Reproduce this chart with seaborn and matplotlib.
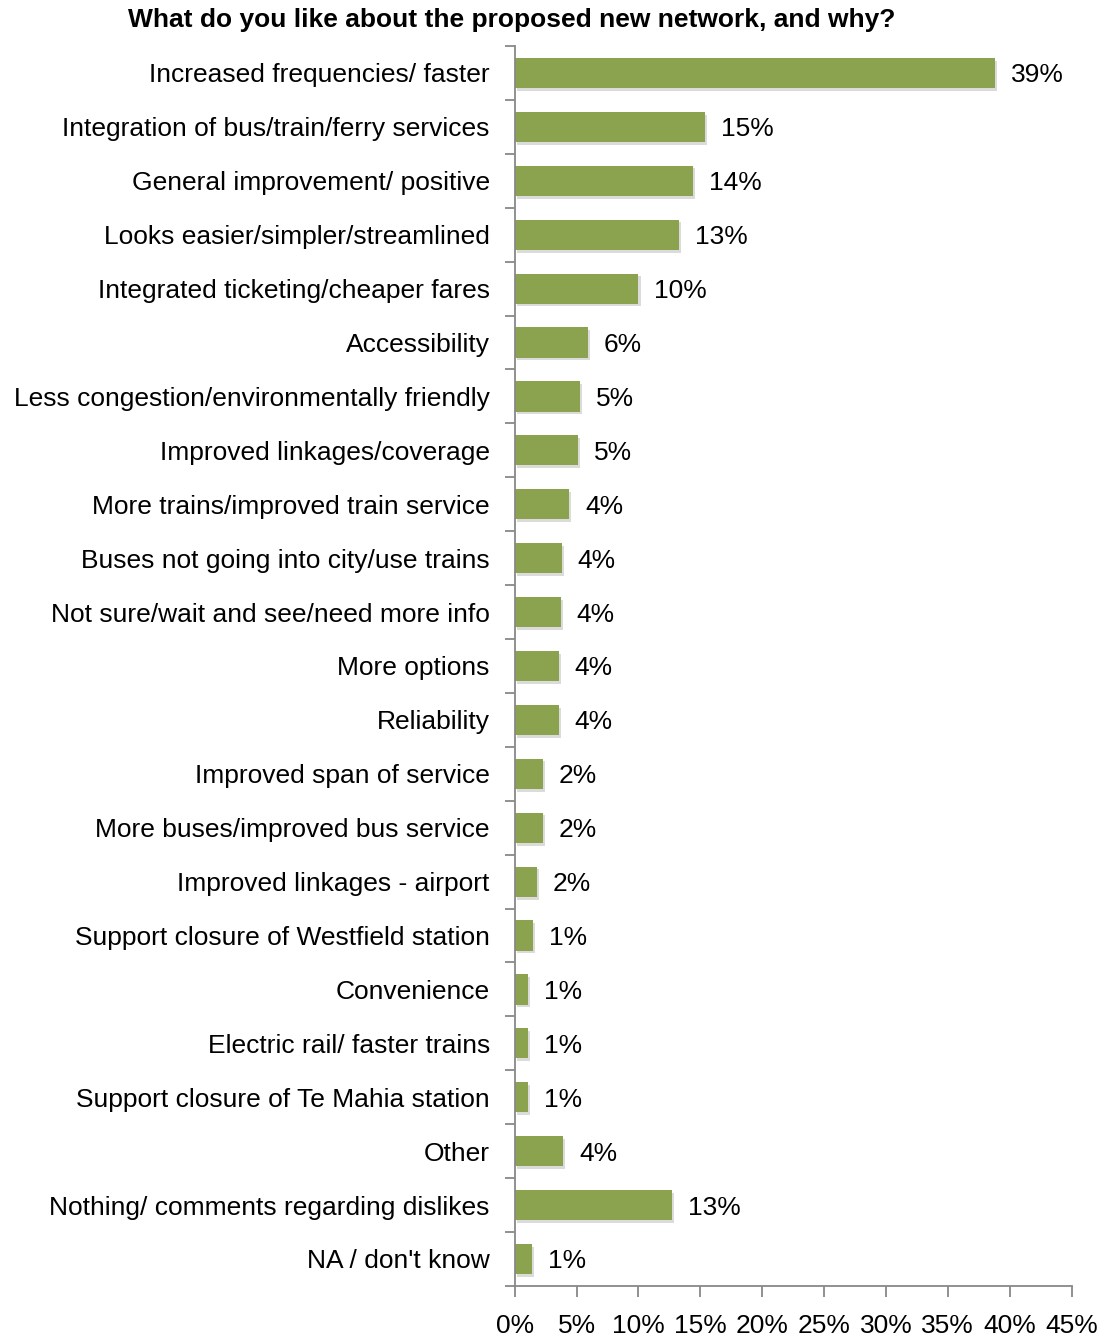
import matplotlib
matplotlib.use("Agg")
import matplotlib.pyplot as plt
import matplotlib.patheffects as pe
from matplotlib.ticker import FixedLocator, PercentFormatter
import numpy as np
import pandas as pd
import seaborn as sns

categories = [
    "Increased frequencies/ faster",
    "Integration of bus/train/ferry services",
    "General improvement/ positive",
    "Looks easier/simpler/streamlined",
    "Integrated ticketing/cheaper fares",
    "Accessibility",
    "Less congestion/environmentally friendly",
    "Improved linkages/coverage",
    "More trains/improved train service",
    "Buses not going into city/use trains",
    "Not sure/wait and see/need more info",
    "More options",
    "Reliability",
    "Improved span of service",
    "More buses/improved bus service",
    "Improved linkages - airport",
    "Support closure of Westfield station",
    "Convenience",
    "Electric rail/ faster trains",
    "Support closure of Te Mahia station",
    "Other",
    "Nothing/ comments regarding dislikes",
    "NA / don't know",
]
shares = [38.8, 15.4, 14.4, 13.3, 10.0, 5.9, 5.25, 5.1, 4.4, 3.8, 3.7, 3.55,
          3.55, 2.26, 2.26, 1.8, 1.45, 1.1, 1.1, 1.1, 3.9, 12.7, 1.4]
x_ticks = [0, 5, 10, 15, 20, 25, 30, 35, 40, 45]

df = pd.DataFrame({"category": categories, "share": shares})

sns.set_theme(style="white")
plt.rcParams["font.family"] = ["Liberation Sans", "DejaVu Sans"]

fig = plt.figure(figsize=(11.07, 13.38), dpi=100)
ax = fig.add_axes([0.465, 0.0389, 0.968 - 0.465, 0.9656 - 0.0389])

bar_color = "#8BA34E"
sns.barplot(data=df, x="share", y="category", order=categories,
            color=bar_color, saturation=1, width=0.56, ax=ax, orient="h")

for patch in ax.patches:
    patch.set_edgecolor("none")
    patch.set_path_effects([
        pe.SimplePatchShadow(offset=(1.5, -2), shadow_rgbFace="#b0b0b0", alpha=0.45),
        pe.Normal(),
    ])

for i, v in enumerate(shares):
    ax.annotate(f"{v:.0f}%", xy=(v, i), xytext=(11.5, 0), textcoords="offset points",
                va="center_baseline", ha="left", fontsize=19, color="black")

ax.set_xlim(0, 45)
ax.set_ylim(len(categories) - 0.5, -0.5)
ax.xaxis.set_major_locator(FixedLocator(x_ticks))
ax.xaxis.set_major_formatter(PercentFormatter(decimals=0))
ax.set_xlabel("")
ax.set_ylabel("")

# category boundaries carry the y tick marks; labels sit on unmarked majors
ax.yaxis.set_minor_locator(FixedLocator(np.arange(-0.5, len(categories), 1.0)))
ax.tick_params(axis="y", which="major", length=0, pad=18, labelsize=19, labelcolor="black")
ax.tick_params(axis="y", which="minor", left=True, length=7, width=1.3, color="#888888")
ax.tick_params(axis="x", which="major", bottom=True, direction="out", length=8,
               width=1.3, color="#888888", pad=12, labelsize=19, labelcolor="black")

for side in ["top", "right"]:
    ax.spines[side].set_visible(False)
for side in ["left", "bottom"]:
    ax.spines[side].set_color("#888888")
    ax.spines[side].set_linewidth(1.3)

fig.text(512 / 1107, 1 - 20 / 1338, "What do you like about the proposed new network, and why?",
         ha="center", va="center", fontsize=19, fontweight="bold", color="black")

fig.savefig("out.png", dpi=100, facecolor="white")
